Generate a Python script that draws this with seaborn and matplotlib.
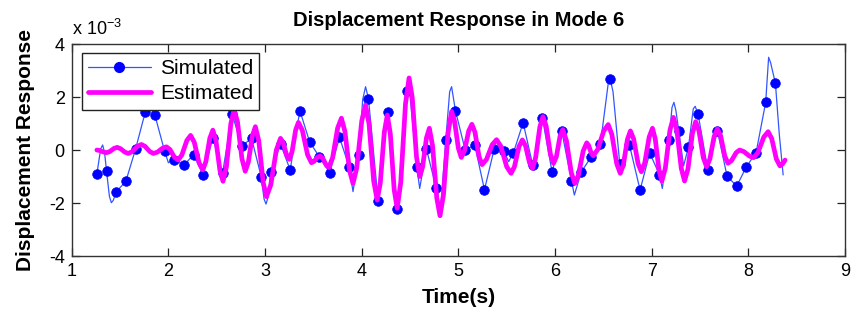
import matplotlib
matplotlib.use("Agg")
import matplotlib.pyplot as plt
import seaborn as sns
import pandas as pd
from matplotlib.lines import Line2D

# ---------------- data (values in units of 1e-3) ----------------
sim_dot_time = [1.26, 1.36, 1.46, 1.56, 1.66, 1.76, 1.86, 1.96, 2.06, 2.16,
                2.26, 2.36, 2.46, 2.56, 2.66, 2.76, 2.86, 2.96, 3.06, 3.16,
                3.26, 3.36, 3.46, 3.56, 3.67, 3.77, 3.87, 3.97, 4.07, 4.17,
                4.27, 4.37, 4.47, 4.57, 4.67, 4.77, 4.87, 4.97, 5.07, 5.17,
                5.27, 5.37, 5.47, 5.57, 5.67, 5.77, 5.87, 5.97, 6.07, 6.17,
                6.27, 6.37, 6.47, 6.57, 6.67, 6.77, 6.88, 6.98, 7.08, 7.18,
                7.28, 7.38, 7.48, 7.58, 7.68, 7.78, 7.88, 7.98, 8.08, 8.18,
                8.28]
sim_dot_value = [-0.91, -0.79, -1.58, -1.18, 0.03, 1.42, 1.32, -0.03, -0.36, -0.58,
                 -0.17, -0.93, 0.46, -0.88, 1.35, 0.14, 0.45, -1.0, -0.82, 0.23,
                 -0.75, 1.49, 0.32, -0.25, -0.86, 0.48, -0.63, -0.2, 1.94, -1.92,
                 1.43, -2.24, 2.24, -0.64, 0.03, -1.42, 0.39, 1.48, 0.01, 0.18,
                 -1.5, 0.03, -0.03, -0.1, 1.03, -0.58, 1.19, -0.84, 0.7, -1.16,
                 -0.84, -0.28, 0.24, 2.67, -0.53, 0.19, -1.51, -0.11, -0.93, 0.38,
                 0.73, 0.1, 1.36, -0.74, 0.73, -0.99, -1.36, -0.63, -0.1, 1.81,
                 2.52]

sim_line_time = [1.26, 1.30, 1.32, 1.34, 1.36, 1.39, 1.41, 1.43, 1.46, 1.56,
                 1.66, 1.76, 1.81, 1.86, 1.96, 2.00, 2.06, 2.16, 2.26, 2.36,
                 2.46, 2.56, 2.66, 2.76, 2.86, 2.96, 2.99, 3.01, 3.03, 3.06,
                 3.16, 3.26, 3.36, 3.46, 3.56, 3.67, 3.77, 3.87, 3.91, 3.97,
                 4.01, 4.04, 4.07, 4.17, 4.27, 4.37, 4.47, 4.49, 4.57, 4.60,
                 4.67, 4.77, 4.815, 4.87, 4.91, 4.93, 4.97, 5.07, 5.17, 5.27,
                 5.37, 5.47, 5.52, 5.57, 5.67, 5.77, 5.87, 5.97, 6.07, 6.17,
                 6.20, 6.27, 6.37, 6.47, 6.55, 6.57, 6.60, 6.67, 6.77, 6.88,
                 6.98, 7.08, 7.11, 7.18, 7.21, 7.23, 7.25, 7.28, 7.33, 7.38,
                 7.43, 7.45, 7.48, 7.58, 7.68, 7.78, 7.88, 7.98, 8.08, 8.18,
                 8.19, 8.21, 8.23, 8.28, 8.32, 8.36]
sim_line_value = [-0.91, 0.05, 0.19, -0.1, -0.79, -1.75, -1.99, -1.9, -1.58, -1.18,
                  0.03, 1.42, 1.6, 1.32, -0.03, -0.48, -0.36, -0.58, -0.17, -0.93,
                  0.46, -0.88, 1.35, 0.14, 0.45, -1.0, -1.85, -2.04, -1.8, -0.82,
                  0.23, -0.75, 1.49, 0.32, -0.25, -0.86, 0.48, -0.63, -1.57, -0.2,
                  1.9, 2.39, 1.94, -1.92, 1.43, -2.24, 2.24, 2.45, -0.64, -1.45,
                  0.03, -1.42, -2.3, 0.39, 2.2, 2.39, 1.48, 0.01, 0.18, -1.5,
                  0.03, -0.03, -0.44, -0.1, 1.03, -0.58, 1.19, -0.84, 0.7, -1.16,
                  -1.7, -0.84, -0.28, 0.24, 2.5, 2.7, 2.2, -0.53, 0.19, -1.51,
                  -0.11, -0.93, -1.45, 0.38, 1.6, 1.8, 1.5, 0.73, -0.6, 0.1,
                  1.55, 1.65, 1.36, -0.74, 0.73, -0.99, -1.36, -0.63, -0.1, 1.81,
                  2.4, 3.5, 3.3, 2.52, 0.6, -0.94]

est_time = [1.26, 1.29, 1.33, 1.36, 1.393, 1.437, 1.47, 1.505, 1.55, 1.585,
            1.626, 1.68, 1.72, 1.758, 1.808, 1.845, 1.886, 1.94, 1.98, 2.016,
            2.064, 2.10, 2.139, 2.191, 2.23, 2.268, 2.318, 2.355, 2.387, 2.429,
            2.46, 2.492, 2.534, 2.565, 2.60, 2.646, 2.68, 2.715, 2.761, 2.795,
            2.827, 2.869, 2.90, 2.935, 2.981, 3.015, 3.059, 3.117, 3.16, 3.187,
            3.223, 3.25, 3.279, 3.317, 3.345, 3.386, 3.44, 3.48, 3.507, 3.543,
            3.57, 3.597, 3.633, 3.66, 3.699, 3.751, 3.79, 3.826, 3.874, 3.91,
            3.949, 4.001, 4.04, 4.076, 4.124, 4.16, 4.192, 4.234, 4.265, 4.296,
            4.336, 4.367, 4.404, 4.453, 4.49, 4.523, 4.567, 4.60, 4.63, 4.67,
            4.70, 4.733, 4.777, 4.81, 4.846, 4.894, 4.93, 4.96, 5.00, 5.03,
            5.063, 5.107, 5.14, 5.172, 5.214, 5.245, 5.29, 5.35, 5.395, 5.44,
            5.50, 5.545, 5.58, 5.627, 5.662, 5.694, 5.736, 5.767, 5.799, 5.843,
            5.875, 5.908, 5.952, 5.985, 6.014, 6.052, 6.08, 6.118, 6.168, 6.205,
            6.242, 6.291, 6.328, 6.348, 6.375, 6.395, 6.442, 6.504, 6.55, 6.588,
            6.638, 6.675, 6.707, 6.749, 6.78, 6.814, 6.859, 6.893, 6.928, 6.974,
            7.008, 7.037, 7.076, 7.105, 7.141, 7.189, 7.225, 7.26, 7.306, 7.34,
            7.375, 7.421, 7.455, 7.489, 7.534, 7.568, 7.602, 7.646, 7.68, 7.713,
            7.757, 7.79, 7.826, 7.874, 7.91, 7.954, 8.012, 8.055, 8.10, 8.16,
            8.205, 8.242, 8.29, 8.327, 8.355, 8.38]
est_value = [0.0, -0.02, -0.08, -0.1, -0.06, 0.06, 0.1, 0.05, -0.08, -0.13,
             -0.06, 0.14, 0.21, 0.14, -0.06, -0.13, -0.08, 0.07, 0.12, 0.02,
             -0.28, -0.38, -0.19, 0.36, 0.55, 0.29, -0.49, -0.75, -0.45, 0.45,
             0.75, 0.36, -0.79, -1.18, -0.64, 0.99, 1.53, 1.06, -0.33, -0.8,
             -0.46, 0.54, 0.88, 0.35, -1.23, -1.76, -1.32, 0.0, 0.44, 0.28,
             -0.19, -0.35, -0.07, 0.76, 1.04, 0.74, -0.18, -0.48, -0.43, -0.27,
             -0.22, -0.31, -0.57, -0.66, -0.29, 0.83, 1.2, 0.71, -0.77, -1.26,
             -0.67, 1.11, 1.7, 0.98, -1.17, -1.89, -1.25, 0.68, 1.32, 0.62,
             -1.5, -2.2, -1.22, 1.74, 2.72, 1.98, -0.26, -1.0, -0.64, 0.46,
             0.82, 0.16, -1.82, -2.48, -1.69, 0.66, 1.45, 1.1, 0.07, -0.28,
             -0.03, 0.72, 0.97, 0.67, -0.25, -0.55, -0.36, 0.2, 0.39, 0.14,
             -0.63, -0.88, -0.63, 0.13, 0.38, 0.17, -0.48, -0.69, -0.3, 0.87,
             1.26, 0.91, -0.15, -0.5, -0.25, 0.52, 0.77, 0.36, -0.85, -1.26,
             -0.95, -0.04, 0.27, 0.17, -0.12, -0.22, 0.02, 0.72, 0.96, 0.59,
             -0.51, -0.88, -0.56, 0.4, 0.72, 0.41, -0.51, -0.82, -0.49, 0.49,
             0.82, 0.42, -0.77, -1.17, -0.69, 0.75, 1.23, 0.75, -0.69, -1.17,
             -0.72, 0.62, 1.07, 0.73, -0.29, -0.63, -0.34, 0.51, 0.8, 0.54,
             -0.24, -0.5, -0.4, -0.1, 0.0, -0.06, -0.23, -0.29, -0.09, 0.49,
             0.69, 0.43, -0.34, -0.6, -0.52, -0.38]

x_ticks = [1, 2, 3, 4, 5, 6, 7, 8, 9]
y_ticks = [-4, -2, 0, 2, 4]

# ---------------- styling ----------------
sns.set_theme(style="ticks")
plt.rcParams['font.family'] = ['Liberation Sans', 'DejaVu Sans']
plt.rcParams['mathtext.fontset'] = 'custom'
plt.rcParams['mathtext.rm'] = 'Liberation Sans'
plt.rcParams['text.color'] = 'black'
plt.rcParams['axes.labelcolor'] = 'black'

BLUE = "#0000ff"
LINE_BLUE = "#3355ff"
MAGENTA = "#ff00ff"

fig = plt.figure(figsize=(8.59, 3.28), dpi=100)
ax = fig.add_axes([0.0835, 0.2195, 0.9002, 0.6463])

df_line = pd.DataFrame({"t": sim_line_time, "v": sim_line_value})
df_dot = pd.DataFrame({"t": sim_dot_time, "v": sim_dot_value})
df_est = pd.DataFrame({"t": est_time, "v": est_value})

sns.lineplot(data=df_line, x="t", y="v", ax=ax, color=LINE_BLUE, linewidth=0.9,
             sort=False, estimator=None)
sns.scatterplot(data=df_dot, x="t", y="v", ax=ax, color=BLUE, s=48,
                edgecolor=BLUE, linewidth=0.5, zorder=3)
sns.lineplot(data=df_est, x="t", y="v", ax=ax, color=MAGENTA, linewidth=3.4,
             sort=False, estimator=None, zorder=4)
for ln in ax.lines:
    ln.set_solid_joinstyle("round")
    ln.set_solid_capstyle("round")

ax.set_xlim(1, 9)
ax.set_ylim(-4, 4)
ax.set_xticks(x_ticks)
ax.set_yticks(y_ticks)
ax.set_xticklabels([str(v) for v in x_ticks])
ax.set_yticklabels([str(v) for v in y_ticks])
ax.tick_params(direction="in", length=6, width=0.9, colors="#222222",
               labelsize=13, labelcolor="black", top=True, right=True, pad=5)
for sp in ax.spines.values():
    sp.set_visible(True)
    sp.set_linewidth(1.0)
    sp.set_color("#333333")

ax.set_xlabel("Time(s)", fontsize=15, fontweight="bold", labelpad=6, color="black")
ax.set_ylabel("Displacement Response", fontsize=15, fontweight="bold", labelpad=10,
              color="black")
ax.set_title("Displacement Response in Mode 6", fontsize=14.5, fontweight="bold",
             pad=13, color="black")

ax.text(0.0, 1.025, r"x 10$^{\mathregular{-3}}$", transform=ax.transAxes,
        fontsize=13, ha="left", va="bottom", color="black")

handles = [
    Line2D([0], [0], color=LINE_BLUE, linewidth=0.9, marker="o", markersize=7,
           markerfacecolor=BLUE, markeredgecolor=BLUE),
    Line2D([0], [0], color=MAGENTA, linewidth=3.4),
]
leg = ax.legend(handles, ["Simulated", "Estimated"], loc="upper left",
                bbox_to_anchor=(0.013, 0.958), fontsize=15, frameon=True,
                fancybox=False, framealpha=1, edgecolor="#222222",
                handlelength=3.0, handletextpad=0.45, labelspacing=0.3,
                borderpad=0.3, borderaxespad=0.0)
leg.get_frame().set_linewidth(1.0)
leg.set_zorder(10)
for txt in leg.get_texts():
    txt.set_color("black")

fig.savefig("out.png", dpi=100, facecolor="white")
